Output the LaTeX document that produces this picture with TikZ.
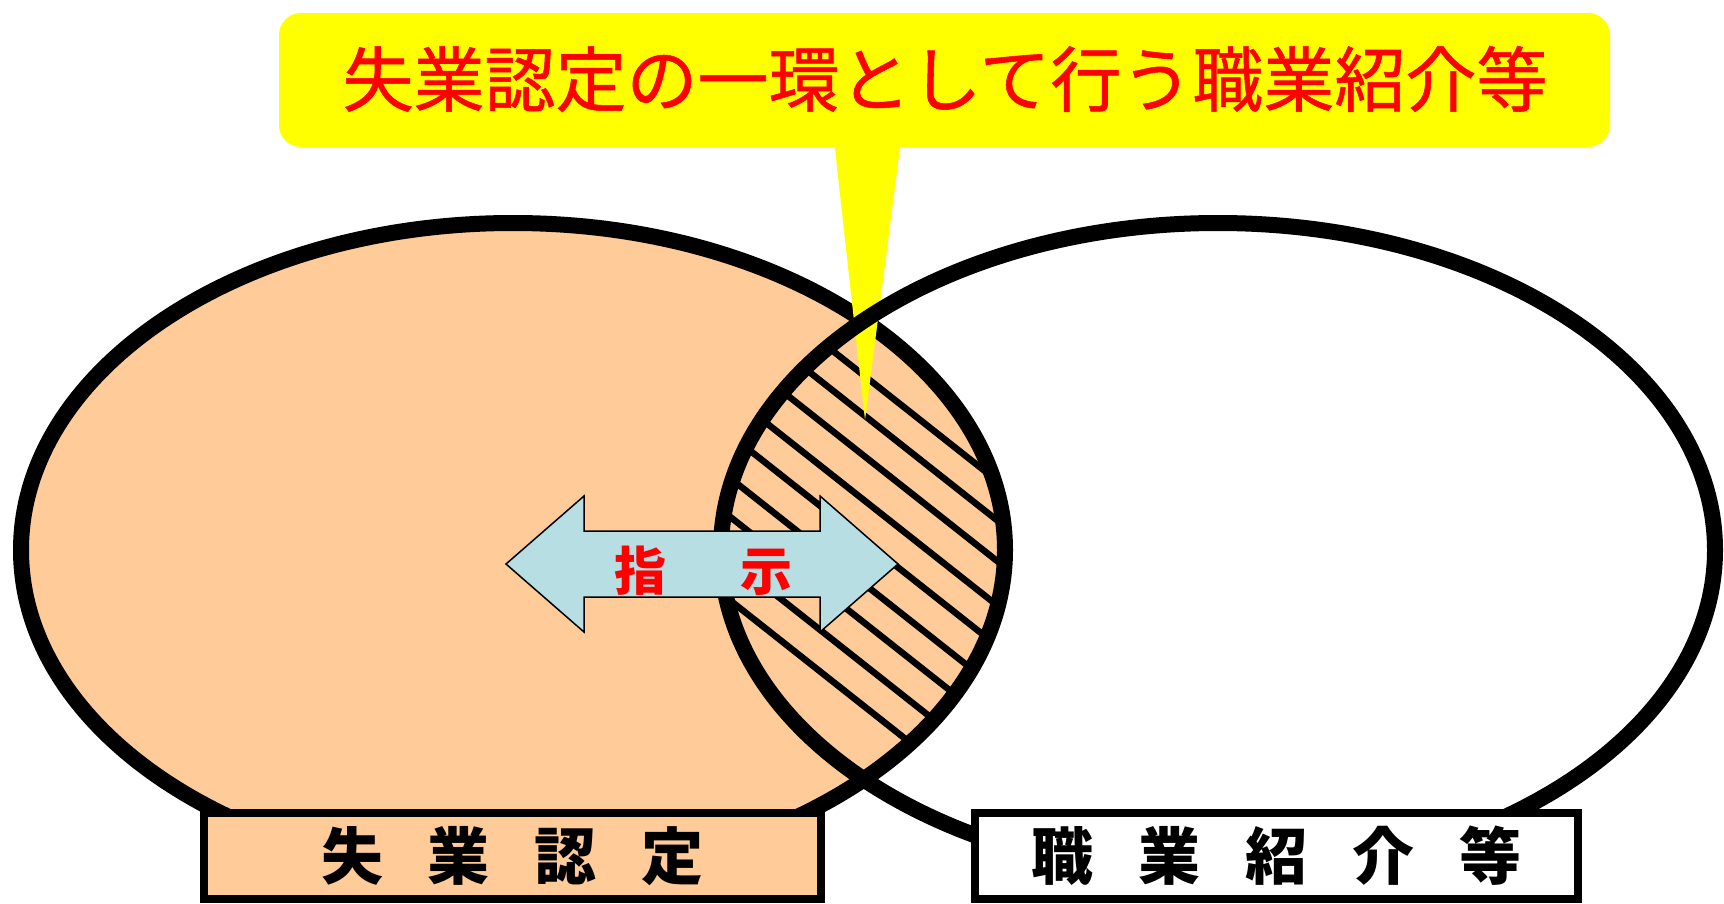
\documentclass[tikz,border=0pt]{standalone}
\usepackage{fontspec}
\newfontfamily\jp{Noto Sans CJK JP}
\newfontfamily\jpmed[FakeBold=0.8]{Noto Sans CJK JP}
\definecolor{peach}{HTML}{FFCC99}
\definecolor{lblue}{HTML}{B7DEE2}
\definecolor{callout}{HTML}{FFFF00}
\begin{document}
\begin{tikzpicture}[x=1pt,y=-1pt,
  ring/.style={draw=black,line width=16},
  hatchline/.style={draw=black,line width=6.5},
  labelbox/.style={draw=black,line width=8,minimum width=617,minimum height=86,inner sep=0,font=\jp\bfseries\fontsize{62}{62}\selectfont},
  arrowtext/.style={text=red,font=\jp\bfseries\fontsize{52}{52}\selectfont,inner sep=0},
  titletext/.style={text=red,font=\jpmed\fontsize{71}{71}\selectfont,inner sep=0}]
\useasboundingbox (0,0) rectangle (1724,903);
% left ellipse
\path[ring,fill=peach] (513,550) ellipse [x radius=492,y radius=327];
% hatching of the lens
\begin{scope}
  \clip (513,550) ellipse [x radius=492,y radius=327];
  \clip (1218,550) ellipse [x radius=497,y radius=327];
  \foreach \yy in {377.7,417.3,458,502.3,542.7,586,624.7,666.7,708.3}
    \draw[hatchline] (700,\yy-131.7) -- (1030,\yy+129);
\end{scope}
% callout
\fill[callout,rounded corners=22] (279,13) rectangle (1610,147);
\fill[callout] (834,140) -- (865,420) -- (901,140) -- cycle;
\node[titletext] (title) at (945,79) {失業認定の一環として行う職業紹介等};
% right ellipse
\path[ring] (1218,550) ellipse [x radius=497,y radius=327];
% double arrow
\draw[fill=lblue,line width=1.5] (506,564) -- (584,496) -- (584,531) -- (820,531) -- (820,496) -- (898,564) -- (820,632) -- (820,597) -- (584,597) -- (584,632) -- cycle;
\node[arrowtext] (shiji) at (703,571) {指\hspace{74pt}示};
% label boxes
\node[labelbox,fill=peach] (left) at (512.5,856) {失\hspace{45pt}業\hspace{45pt}認\hspace{45pt}定};
\node[labelbox,fill=white,minimum width=603] (right) at (1276.5,856) {職\hspace{45pt}業\hspace{45pt}紹\hspace{45pt}介\hspace{45pt}等};
\end{tikzpicture}
\end{document}
